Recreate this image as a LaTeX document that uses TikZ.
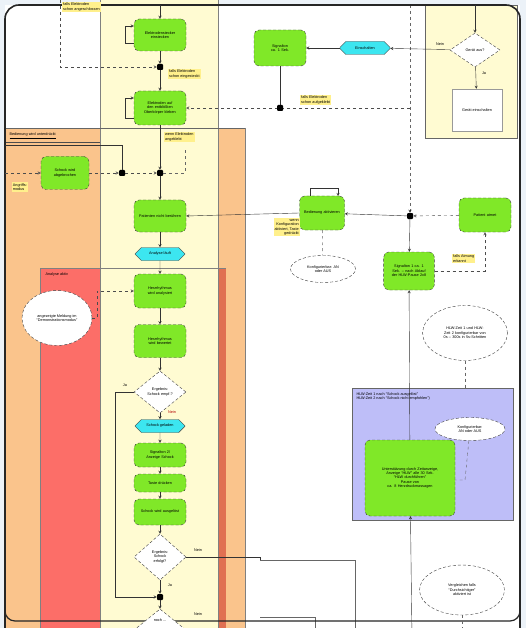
\documentclass[tikz,border=0pt]{standalone}
\usepackage{fontspec}
\setmainfont{Liberation Sans}
\usetikzlibrary{arrows,shapes.geometric,shapes.misc}

\definecolor{bggray}{RGB}{236,242,248}
\definecolor{colyellow}{RGB}{255,251,210}
\definecolor{colorange}{RGB}{250,196,140}
\definecolor{colred}{RGB}{252,110,104}
\definecolor{colredd}{RGB}{224,112,82}
\definecolor{colblue}{RGB}{190,190,248}
\definecolor{fctgreen}{RGB}{128,232,40}
\definecolor{evtcyan}{RGB}{60,230,240}
\definecolor{notey}{RGB}{255,240,140}

\begin{document}
\begin{tikzpicture}[x=1pt,y=-1pt,
    every node/.style={font=\fontsize{3.8}{4.4}\selectfont,align=center},
    fct/.style={draw=black!75,densely dashed,fill=fctgreen,rounded corners=5pt,
                minimum width=52pt,text width=44pt},
    evt/.style={draw=black!75,fill=evtcyan,chamfered rectangle,chamfered rectangle xsep=3pt,
                minimum width=50pt,minimum height=13pt,inner sep=1pt},
    dec/.style={draw=black!75,densely dashed,fill=white,diamond,inner sep=0pt,
                minimum width=52pt,minimum height=42pt,text width=26pt},
    info/.style={draw=black!75,densely dashed,fill=white,ellipse,inner sep=0pt},
    note/.style={fill=notey,inner sep=1pt,align=left},
    conn/.style={fill=black,rounded corners=1pt,minimum size=6pt,inner sep=0pt},
    flow/.style={draw=black!80,thin,->,>=stealth},
    opt/.style={draw=black!70,thin,dashed,->,>=stealth}]
    \useasboundingbox (0,0) rectangle (526,628);
    \clip (0,0) rectangle (526,628);
    % Background and frame
    \fill[bggray] (0,0) rectangle (526,628);
    \fill[white] (5,5) rectangle (520,640);
    % Lanes
    \fill[colorange] (5,128) rectangle (245,640);
    \fill[colred] (40,268) rectangle (218,640);
    \fill[colredd] (218,268) rectangle (226,640);
    \fill[colyellow] (100,0) rectangle (218,640);
    \draw[black!50] (100,0) -- (100,640) (218,0) -- (218,640);
    \draw[black!50] (245,128) -- (245,640);
    \draw[black!60] (5,128) -- (245,128);
    \draw[black!70] (5,142) -- (100,142);
    \draw[black!50] (40,268) -- (40,640) (40,268) -- (226,268);
    \node[anchor=west] (lanebed) at (6,136) {\underline{Bedienung wird unterdrückt}};
    \node[anchor=west] (laneana) at (42,275) {Analyse aktiv};
    \fill[colyellow] (425,5) rectangle (517,138);
    \draw[black!60] (425,5) rectangle (517,138);
    \fill[colblue] (352,388) rectangle (513,520);
    \draw[black!60] (352,388) rectangle (513,520);
    \node[anchor=north west,align=left] (laneblue) at (353,389)
        {HLW-Zeit 1 nach ``Schock ausgelöst''\\HLW-Zeit 2 nach ``Schock nicht empfohlen'')};
    \draw[black!60,dashed] (410,5) -- (410,210);
    \draw[black!60] (260,560) -- (355,560) -- (355,640);
    \draw[black!60] (260,617) -- (315,617) -- (315,640);
    \draw[line width=1.6pt,rounded corners=14pt,black!85] (5,640) -- (5,5) -- (520,5) -- (520,640);
    \draw[line width=1.2pt,rounded corners=10pt,black!85] (5,580) -- (5,621) -- (520,621) -- (520,580);
    % Main column
    \node[fct,minimum height=32pt] (stecker) at (160,35) {Elektrodenstecker einstecken};
    \node[conn] (j1) at (160,67) {};
    \node[fct,minimum height=34pt] (kleben) at (160,108) {Elektroden auf den entblößten Oberkörper kleben};
    \node[conn] (j2) at (160,173) {};
    \node[conn] (j3) at (122,173) {};
    \node[fct,minimum height=32pt] (nichtber) at (160,216) {Patienten nicht berühren};
    \node[evt] (anaevt) at (160,254) {Analyse läuft};
    \node[fct,minimum height=34pt] (rhythm) at (160,291) {Herzrhythmus wird analysiert};
    \node[fct,minimum height=33pt] (ergebnis) at (160,341) {Herzrhythmus wird bewertet};
    \node[dec] (schockq) at (160,392) {Ergebnis: Schock empf.?};
    \node[evt] (ladeevt) at (160,426) {Schock geladen};
    \node[fct,minimum height=24pt] (signal2) at (160,455) {Signalton 2/ Anzeige Schock};
    \node[fct,minimum height=18pt] (taste) at (160,483) {Taste drücken};
    \node[fct,minimum height=26pt] (ausloes) at (160,512) {Schock wird ausgelöst};
    \node[dec,minimum height=46pt] (erfolgq) at (160,557) {Ergebnis: Schock erfolgt?};
    \node[conn] (j4) at (160,597) {};
    \node[dec] (nochq) at (160,630) {};
    \node (nochtxt) at (160,620) {noch ...};
    % Left lane
    \node[fct,minimum height=33pt,text width=40pt,minimum width=48pt] (abbruch) at (65,173) {Schock wird abgebrochen};
    \node[note] (notemod) at (20,187) {Angriffs-\\modus};
    \node[info,minimum width=70pt,minimum height=55pt] (demo) at (57,318) {angezeigte Meldung im\\``Demonstrationsmodus''};
    % Right part
    \node[fct,minimum height=36pt] (signal1) at (280,48) {Signalton\\ca. 1 Sek.};
    \node[evt] (einevt) at (365,48) {Einschalten};
    \node[dec,minimum width=50pt,minimum height=34pt,text width=22pt] (geraetq) at (475,50) {Gerät aus?};
    \node[draw=black!40,fill=white,minimum width=50pt,minimum height=42pt] (einsch) at (477,110) {Gerät einschalten};
    \node[fct,minimum height=34pt,minimum width=45pt,text width=38pt] (aktiv) at (322,213) {Bedienung aktivieren};
    \node[fct,minimum height=34pt] (atmet) at (485,215) {Patient atmet};
    \node[conn] (j5) at (410,216) {};
    \node[fct,minimum height=38pt,minimum width=48pt] (signalp) at (409,271) {Signalton 1 ca. 1 Sek. -- nach Ablauf der HLW-Pause 2x8};
    \node[fct,minimum height=76pt,minimum width=90pt,text width=80pt] (hlw) at (410,478)
        {Unterstützung durch Zeitanzeige, Anzeige ``HLW'' alle 30 Sek.\\``HLW durchführen''\\Pause von\\ca. 8 Herzdruckmassagen};
    \node[info,minimum width=65pt,minimum height=27pt] (konf1) at (323,269) {Konfigurierbar: AN\\oder AUS};
    \node[info,minimum width=80pt,minimum height=55pt,text width=60pt] (zeiten) at (465,333) {HLW-Zeit 1 und HLW-Zeit 2 konfigurierbar von 0s -- 300s in 5s-Schritten};
    \node[info,minimum width=70pt,minimum height=23pt] (konf2) at (470,429) {Konfigurierbar:\\AN oder AUS};
    \node[info,minimum width=85pt,minimum height=50pt] (vergl) at (462,590) {Vergleichen falls\\``Durchsichtiger''\\aktiviert ist};
    % Notes
    \node[note,anchor=north west] (n1) at (62,2) {falls Elektroden\\schon angeschlossen};
    \node[note,anchor=north west] (n2) at (168,69) {falls Elektroden\\schon eingesteckt};
    \node[note,anchor=north west] (n3) at (164,132) {wenn Elektroden\\angeklebt};
    \node[note,anchor=south west] (n4) at (300,105) {falls Elektroden\\schon aufgeklebt};
    \node[note,anchor=north east,align=right] (n5) at (300,218) {wenn\\Konfiguration\\aktiviert, Taste\\gedrückt};
    \node[note,anchor=north west] (n6) at (452,254) {falls Atmung\\erkannt};
    \node (nein1) at (440,44) {Nein};
    \node (ja1) at (484,73) {Ja};
    \node (ja2) at (125,385) {Ja};
    \node[text=red!70!black] (nein2) at (172,412) {Nein};
    \node (nein3) at (198,550) {Nein};
    \node (ja3) at (170,585) {Ja};
    \node (nein4) at (198,614) {Nein};
    % Connections
    \draw[flow] (stecker) -- (j1);
    \draw[flow] (j1) -- (kleben);
    \draw[flow] (kleben) -- (j2);
    \draw[flow] (j2) -- (nichtber);
    \draw[flow] (nichtber) -- (anaevt);
    \draw[flow] (anaevt) -- (rhythm);
    \draw[flow] (rhythm) -- (ergebnis);
    \draw[flow] (ergebnis) -- (schockq);
    \draw[flow] (schockq) -- (ladeevt);
    \draw[flow] (ladeevt) -- (signal2);
    \draw[flow] (signal2) -- (taste);
    \draw[flow] (taste) -- (ausloes);
    \draw[flow] (ausloes) -- (erfolgq);
    \draw[flow] (erfolgq) -- (j4);
    \draw[flow] (j4) -- (nochq);
    \draw[flow] (schockq.west) -- (115,392) -- (115,597) -- (j4);
    \draw[black!80] (erfolgq.east) -- (260,557) -- (260,560);
    \draw[black!80] (nochq.east) -- (260,630);
    \draw[black!80] (nochq.west) -- (115,630);
    \draw[flow] (125,26) -- (stecker.west |- 26,26);
    \draw[black!80] (stecker.west |- 43,43) -- (125,43) -- (125,26);
    \draw[flow] (125,98) -- (kleben.west |- 98,98);
    \draw[black!80] (kleben.west |- 118,118) -- (125,118) -- (125,98);
    \draw[opt] (60,0) -- (60,67) -- (j1);
    \draw[opt] (abbruch) -- (j3);
    \draw[opt] (j3) -- (j2);
    \draw[opt] (5,173) -- (abbruch);
    \draw[black!80] (5,145) -- (122,145) -- (j3);
    \draw[black!60,dashed] (j2) -- (185,173) -- (185,148);
    \draw[opt] (demo.east) -- (97,318) -- (97,291) -- (rhythm);
    \draw[flow] (einevt) -- (signal1);
    \draw[flow] (geraetq) -- (einevt);
    \draw[flow] (geraetq) -- (einsch);
    \draw[flow] (475,5) -- (geraetq);
    \draw[flow] (160,5) -- (stecker);
    \draw[black!80] (signal1) -- (280,108);
    \draw[opt] (410,108) -- (kleben.east |- 108,108);
    \node[conn] (j6) at (280,108) {};
    \draw[flow] (aktiv.west) -- (nichtber.east);
    \draw[flow] (j5) -- (aktiv);
    \draw[opt] (atmet) -- (j5);
    \draw[flow] (310,196) -- (310,188) -- (338,188) -- (338,196);
    \draw[black!60,dashed] (aktiv) -- (konf1);
    \draw[flow] (410,210) -- (j5);
    \draw[flow] (j5) -- (signalp);
    \draw[opt] (signalp.east) -- (485,271) -- (atmet);
    \draw[flow] (412,640) -- (hlw);
    \draw[flow] (hlw) -- (signalp);
    \draw[black!60,dashed] (zeiten) -- (465,388);
    \draw[black!60,dashed] (konf2) -- (465,480) -- (hlw.east |- 480,480);
    \draw[black!60,dashed] (vergl) -- (462,628);
\end{tikzpicture}
\end{document}
